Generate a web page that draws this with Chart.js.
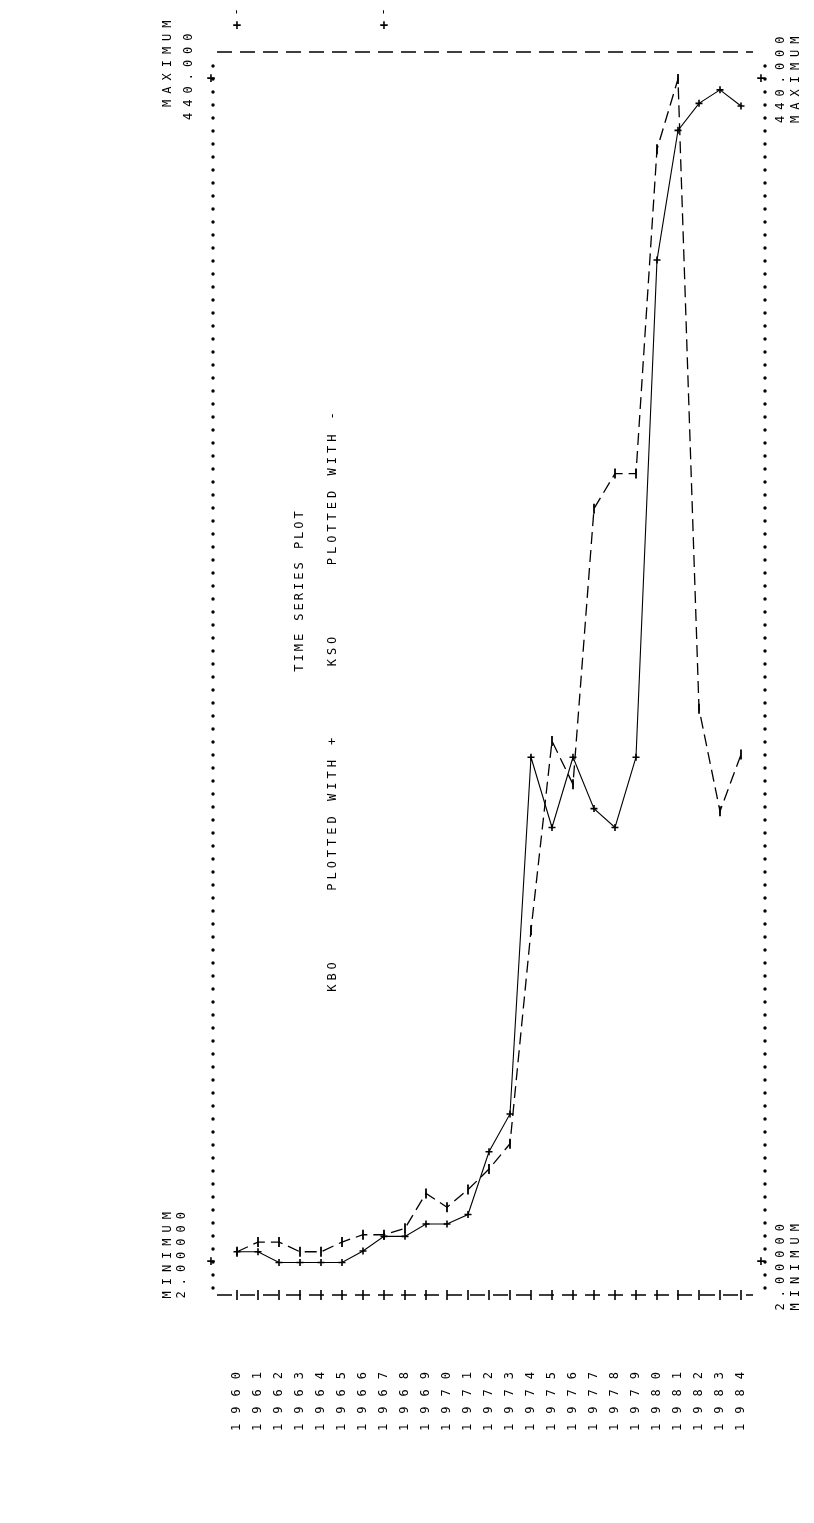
<!DOCTYPE html>
<html><head><meta charset="utf-8">
<script src="https://cdn.jsdelivr.net/npm/chart.js@4"></script>
<style>html,body{margin:0;padding:0;background:#fff}#c{display:block}</style>
</head><body>
<canvas id="c" width="814" height="1523" style="width:814px;height:1523px"></canvas>
<script>
const years = [1960,1961,1962,1963,1964,1965,1966,1967,1968,1969,1970,1971,1972,1973,1974,1975,1976,1977,1978,1979,1980,1981,1982,1983,1984];
const kbo = [6,6,2,2,2,2,6.3,11.7,11.7,16.3,16.3,19.8,43,57,189,163,189,170,163,189,373,421,431,436,430];
const kso = [6,9.6,9.6,6,6,9.6,12.3,12.3,14.7,27.6,22.5,29,36.6,46,125,195,179,281,294,294,414,440,207,169,190];
const seriesNames = ['KBO','KSO'];
const vMin = 2, vMax = 440;
const minLabel = '2.00000', maxLabel = '440.000';

const FONT = '12px "DejaVu Sans Mono"';
const SP = '6px';
const PAD_L = 213, PAD_R = 49, PAD_T = 52, AXIS_H = 228;
const yLo = -10, yHi = 450;

function vtext(ctx, s, x, y, align){
  ctx.save(); ctx.translate(x,y); ctx.rotate(-Math.PI/2);
  ctx.textAlign = align; ctx.textBaseline = 'middle'; ctx.fillText(s,0,0); ctx.restore();
}

const frame = {
  id:'frame',
  beforeDraw(chart){ chart.ctx.letterSpacing = '10px'; },
  beforeDatasetsDraw(chart){ chart.ctx.letterSpacing = '0px'; },
  afterDraw(chart){
    const ctx = chart.ctx, a = chart.chartArea, xs = chart.scales.x, ys = chart.scales.y;
    ctx.save();
    ctx.fillStyle = '#000'; ctx.strokeStyle = '#000';
    for (const x of [a.left, a.right]) {
      for (let y = a.top + 14; y <= a.bottom - 6; y += 13) { ctx.beginPath(); ctx.arc(x, y, 1.7, 0, Math.PI*2); ctx.fill(); }
    }
    ctx.lineWidth = 1.6; ctx.setLineDash([15,8]);
    for (const y of [a.top, a.bottom]) { ctx.beginPath(); ctx.moveTo(a.left+4, y); ctx.lineTo(a.right-12, y); ctx.stroke(); }
    ctx.setLineDash([]);
    for (const yr of years) { const x = xs.getPixelForValue(yr); ctx.beginPath(); ctx.moveTo(x, a.bottom-5); ctx.lineTo(x, a.bottom+5); ctx.stroke(); }
    ctx.font = 'bold 14px "DejaVu Sans Mono"'; ctx.letterSpacing = '0px';
    ctx.textAlign = 'center'; ctx.textBaseline = 'middle';
    const yMaxP = ys.getPixelForValue(vMax), yMinP = ys.getPixelForValue(vMin);
    ctx.fillText('+', a.left - 2, yMaxP); ctx.fillText('+', a.right - 4, yMaxP);
    ctx.fillText('+', a.left - 2, yMinP); ctx.fillText('+', a.right - 4, yMinP);
    ctx.fillText('+', xs.getPixelForValue(1960), 26); ctx.fillText('+', xs.getPixelForValue(1967), 26);
    ctx.font = FONT;
    vtext(ctx, '-', xs.getPixelForValue(1960), 12, 'center');
    vtext(ctx, '-', xs.getPixelForValue(1967), 12, 'center');
    ctx.font = FONT; ctx.letterSpacing = SP;
    vtext(ctx, 'MAXIMUM', 168, 107, 'left');
    vtext(ctx, maxLabel, 189, 120, 'left');
    vtext(ctx, maxLabel, 781, 123, 'left');
    vtext(ctx, 'MAXIMUM', 796, 123, 'left');
    vtext(ctx, 'MINIMUM', 168, yMinP + 36, 'left');
    vtext(ctx, minLabel, 182, yMinP + 36, 'left');
    vtext(ctx, minLabel, 781, yMinP + 48, 'left');
    vtext(ctx, 'MINIMUM', 796, yMinP + 48, 'left');
    ctx.letterSpacing = '3px';
    vtext(ctx, 'TIME SERIES PLOT', 300, 590, 'center');
    ctx.letterSpacing = '4px';
    vtext(ctx, seriesNames[0] + '      PLOTTED WITH +      ' + seriesNames[1] + '      PLOTTED WITH -', 333, 700, 'center');
    ctx.restore();
    ctx.letterSpacing = '0px';
  }
};

new Chart(document.getElementById('c'), {
  type: 'line',
  data: { datasets: [
    { label: seriesNames[0], data: years.map((y,i)=>({x:y, y:kbo[i]})), borderColor:'#000', borderWidth:1.1,
      pointStyle:'cross', pointRadius:3.5, pointBorderWidth:1.6, pointBorderColor:'#000', tension:0 },
    { label: seriesNames[1], data: years.map((y,i)=>({x:y, y:kso[i]})), borderColor:'#000', borderWidth:1.3, borderDash:[12,6],
      pointStyle:'line', rotation:90, pointRadius:5, pointBorderWidth:1.8, pointBorderColor:'#000', tension:0 }
  ]},
  options: {
    responsive:false, animation:false, devicePixelRatio:1,
    layout:{ padding:{ left:PAD_L, right:PAD_R, top:PAD_T, bottom:0 } },
    plugins:{ legend:{display:false}, tooltip:{enabled:false}, title:{display:false} },
    scales:{
      x:{ type:'linear', min:1958.857, max:1985.143,
        afterBuildTicks(s){ s.ticks = years.map(v=>({value:v})); },
        afterFit(s){ s.height = AXIS_H; s.paddingLeft = 0; s.paddingRight = 0; },
        grid:{display:false, drawTicks:false}, border:{display:false},
        ticks:{ autoSkip:false, minRotation:90, maxRotation:90, padding:67, color:'#000',
          font:{family:'DejaVu Sans Mono', size:12}, callback:(v)=>String(v) } },
      y:{ display:false, min:yLo, max:yHi }
    }
  },
  plugins:[frame]
});
</script>
</body></html>
